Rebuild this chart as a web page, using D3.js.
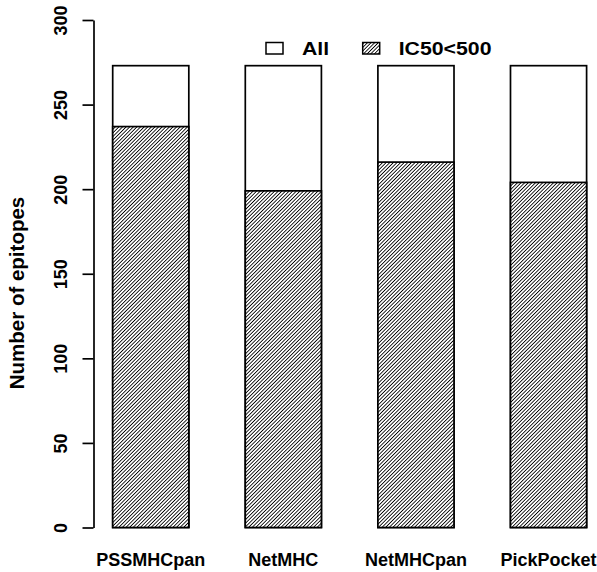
<!DOCTYPE html>
<html>
<head>
<meta charset="utf-8">
<script src="https://cdn.jsdelivr.net/npm/d3@7"></script>
<style>
  body { margin: 0; background: #fff; }
  text { font-family: "Liberation Sans", Arial, sans-serif; font-weight: bold; fill: #000; }
</style>
</head>
<body>
<svg id="my-svg" width="597" height="572"></svg>
<script>
// Chart data
var categories = ['PSSMHCpan', 'NetMHC', 'NetMHCpan', 'PickPocket'];
var allCounts = [273, 273, 273, 273];
var ic50Counts = [237, 199, 216, 204];
var yTicks = [0, 50, 100, 150, 200, 250, 300];
var legendLabels = ['All', 'IC50<500'];

var svg = d3.select('#my-svg');

// hatch pattern for the IC50 bars
var step = 2.55;
var pat = svg.append('defs').append('pattern')
    .attr('id', 'hatch')
    .attr('patternUnits', 'userSpaceOnUse')
    .attr('width', step)
    .attr('height', step)
    .attr('patternTransform', 'rotate(45)');
pat.append('rect').attr('width', step).attr('height', step).attr('fill', '#fff');
pat.append('line')
    .attr('x1', 0.6).attr('y1', -1)
    .attr('x2', 0.6).attr('y2', step + 1)
    .attr('stroke', '#000')
    .attr('stroke-width', 1.1)
    .attr('shape-rendering', 'crispEdges');

// Scales
var x = d3.scaleBand()
    .domain(categories)
    .range([112.7, 586.6])
    .paddingInner(0.426)
    .paddingOuter(0);

var y = d3.scaleLinear()
    .domain([0, 300])
    .range([527.5, 20]);

// All bars (white)
svg.selectAll('rect.all')
   .data(categories)
   .enter()
   .append('rect')
   .attr('class', 'all')
   .attr('x', function(d) { return x(d); })
   .attr('width', x.bandwidth())
   .attr('y', function(d, i) { return y(allCounts[i]); })
   .attr('height', function(d, i) { return y(0) - y(allCounts[i]); })
   .attr('fill', '#fff')
   .attr('stroke', '#000')
   .attr('stroke-width', 1.7);

// IC50<500 bars (hatched)
svg.selectAll('rect.ic50')
   .data(categories)
   .enter()
   .append('rect')
   .attr('class', 'ic50')
   .attr('x', function(d) { return x(d); })
   .attr('width', x.bandwidth())
   .attr('y', function(d, i) { return y(ic50Counts[i]); })
   .attr('height', function(d, i) { return y(0) - y(ic50Counts[i]); })
   .attr('fill', 'url(#hatch)')
   .attr('stroke', '#000')
   .attr('stroke-width', 1.7);

// Y axis
var yAxis = svg.append('g')
    .attr('transform', 'translate(93.5,0)')
    .call(d3.axisLeft(y).tickValues(yTicks).tickSize(11).tickSizeOuter(0));
yAxis.selectAll('path, line').attr('stroke', '#000').attr('stroke-width', 1.7);
yAxis.selectAll('text')
     .attr('transform', 'rotate(-90)')
     .attr('x', 0)
     .attr('y', -26.5)
     .attr('dy', null)
     .attr('text-anchor', 'middle')
     .style('font-size', '18px')
     .style('font-family', '"Liberation Sans", Arial, sans-serif')
     .style('font-weight', 'bold');

// Category labels under bars
svg.selectAll('text.cat')
   .data(categories)
   .enter()
   .append('text')
   .attr('class', 'cat')
   .attr('x', function(d) { return x(d) + x.bandwidth() / 2; })
   .attr('y', 566)
   .attr('text-anchor', 'middle')
   .style('font-size', '18px')
   .text(function(d) { return d; });

// Y axis title
svg.append('text')
   .attr('transform', 'translate(24,293) rotate(-90)')
   .attr('text-anchor', 'middle')
   .style('font-size', '20.5px')
   .text('Number of epitopes');

// Legend
var legX = [266, 362.7];
var legend = svg.selectAll('g.leg')
   .data(legendLabels)
   .enter()
   .append('g')
   .attr('class', 'leg')
   .attr('transform', function(d, i) { return 'translate(' + legX[i] + ',0)'; });
legend.append('rect')
   .attr('x', 0).attr('y', 42.5)
   .attr('width', 17).attr('height', 11.5)
   .attr('fill', function(d, i) { return i === 0 ? '#fff' : 'url(#hatch)'; })
   .attr('stroke', '#000')
   .attr('stroke-width', 1.5);
legend.append('text')
   .attr('transform', 'translate(36,54.5) scale(1.12,1)')
   .style('font-size', '19px')
   .text(function(d) { return d; });
</script>
</body>
</html>
